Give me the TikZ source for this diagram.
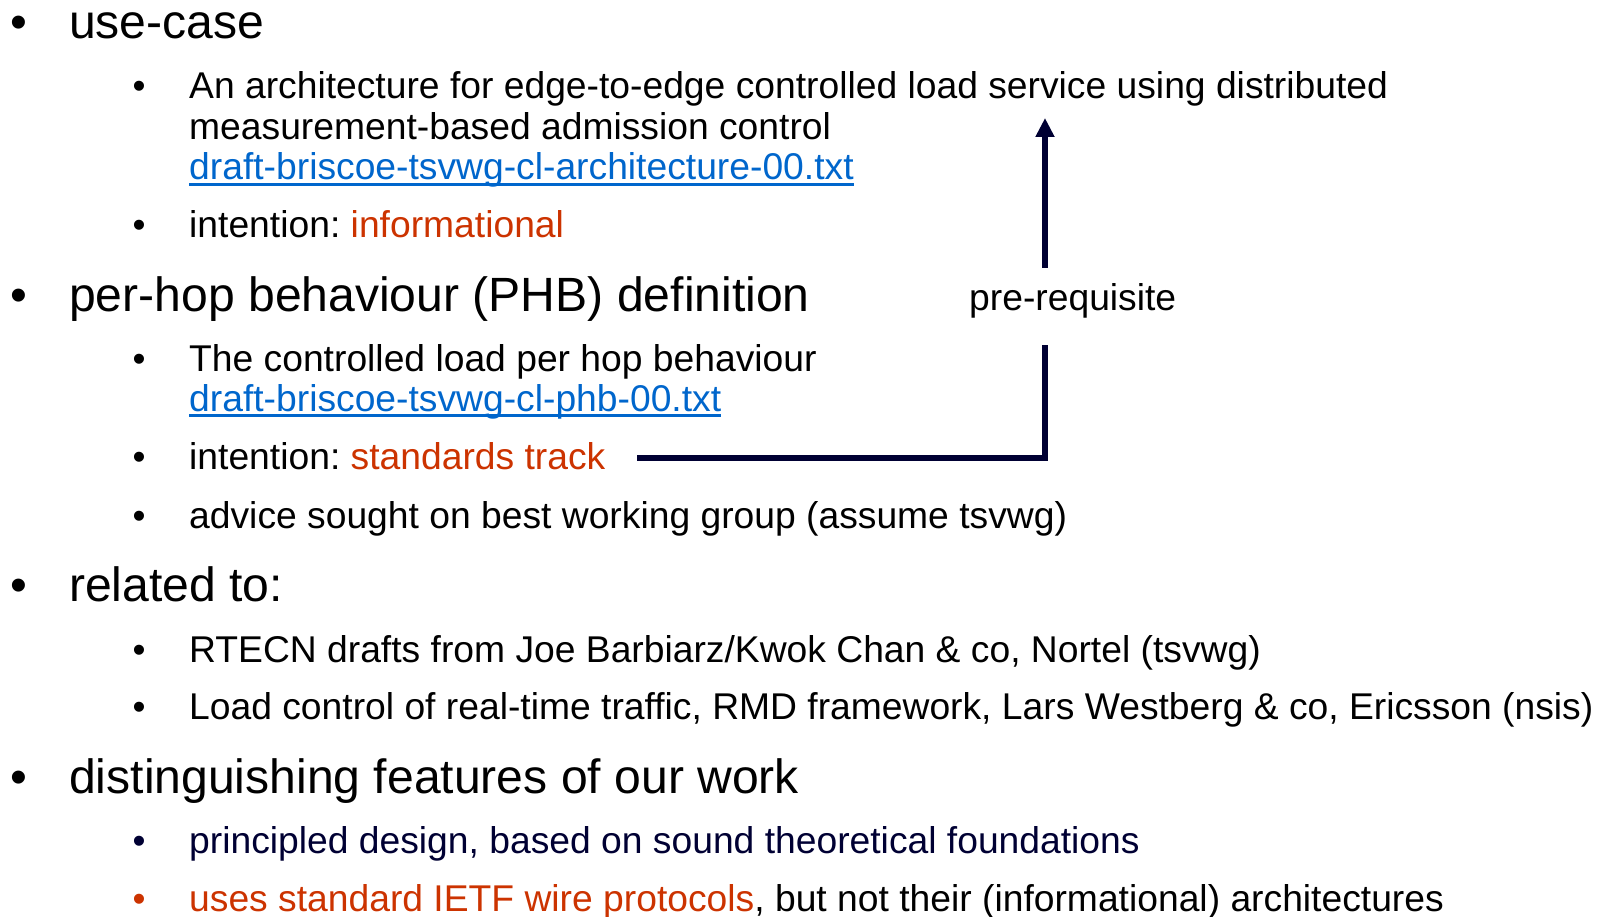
\documentclass[tikz,border=0pt]{standalone}
\usepackage{fontspec}
\setmainfont{Liberation Sans}
\usetikzlibrary{arrows.meta}
\definecolor{linkblue}{HTML}{0066CC}
\definecolor{accent}{HTML}{CC3300}
\definecolor{navy}{HTML}{000033}
\frenchspacing
\begin{document}
\begin{tikzpicture}[x=1pt,y=-1pt,
  big/.style={anchor=base west,inner sep=0pt,font=\fontsize{48.1}{52}\selectfont},
  small/.style={anchor=base west,inner sep=0pt,font=\fontsize{37.25}{41}\selectfont},
  bigdot/.style={anchor=base,inner sep=0pt,font=\fontsize{48}{52}\selectfont},
  smalldot/.style={anchor=base,inner sep=0pt,font=\fontsize{37}{41}\selectfont},
  link/.style={small,text=linkblue},
  uline/.style={draw=linkblue,line width=2.4pt},
  flow/.style={draw=navy,line width=5.5pt,line join=miter}]
\useasboundingbox (0,0) rectangle (1604,917);

% level-one bullets
\node[bigdot] (b1) at (19,39) {•};
\node[big] (t1) at (69,39) {use-case};
\node[bigdot] (b2) at (19,312) {•};
\node[big] (t2) at (69,312) {per-hop behaviour (PHB) definition};
\node[bigdot] (b3) at (19,601) {•};
\node[big] (t3) at (69,601) {related to:};
\node[bigdot] (b4) at (19,793) {•};
\node[big] (t4) at (69,793) {distinguishing features of our work};

% use-case items
\node[smalldot] (d11) at (139,99) {•};
\node[small] (arch1) at (189,99) {An architecture for edge-to-edge controlled load service using distributed};
\node[small] (arch2) at (189,140) {measurement-based admission control};
\node[link] (arch3) at (189,180) {draft-briscoe-tsvwg-cl-architecture-00.txt};
\draw[uline] ([yshift=-4.5pt]arch3.base west) -- ([yshift=-4.5pt]arch3.base east);
\node[smalldot] (d12) at (139,238) {•};
\node[small] (int1) at (189,238) {intention: \textcolor{accent}{informational}};

% PHB items
\node[smalldot] (d21) at (139,371) {•};
\node[small] (phb1) at (189,371) {The controlled load per hop behaviour};
\node[link] (phb2) at (189,411) {draft-briscoe-tsvwg-cl-phb-00.txt};
\draw[uline] ([yshift=-4.5pt]phb2.base west) -- ([yshift=-4.5pt]phb2.base east);
\node[smalldot] (d22) at (139,469) {•};
\node[small] (int2) at (189,469) {intention: \textcolor{accent}{standards track}};
\node[smalldot] (d23) at (139,528) {•};
\node[small] (adv) at (189,528) {advice sought on best working group (assume tsvwg)};

% related work
\node[smalldot] (d31) at (139,662) {•};
\node[small] (rel1) at (189,662) {RTECN drafts from Joe Barbiarz/Kwok Chan \& co, Nortel (tsvwg)};
\node[smalldot] (d32) at (139,719) {•};
\node[small] (rel2) at (189,719) {Load control of real-time traffic, RMD framework, Lars Westberg \& co, Ericsson (nsis)};

% features
\node[smalldot,text=navy] (d41) at (139,853) {•};
\node[small,text=navy] (feat1) at (189,853) {principled design, based on sound theoretical foundations};
\node[smalldot,text=accent] (d42) at (139,911) {•};
\node[small] (feat2) at (189,911) {\textcolor{accent}{uses standard IETF wire protocols}, but not their (informational) architectures};

% pre-requisite connector
\node[small] (pre) at (969,311) {pre-requisite};
\coordinate (from) at (637,458);
\coordinate (gbot) at (1045,345);
\coordinate (gtop) at (1045,268);
\coordinate (tip) at (1045,118);
\draw[flow] (from) -| (gbot);
\draw[flow,-{Triangle[length=19pt,width=18pt]}] (gtop) -- (tip);
\end{tikzpicture}
\end{document}
